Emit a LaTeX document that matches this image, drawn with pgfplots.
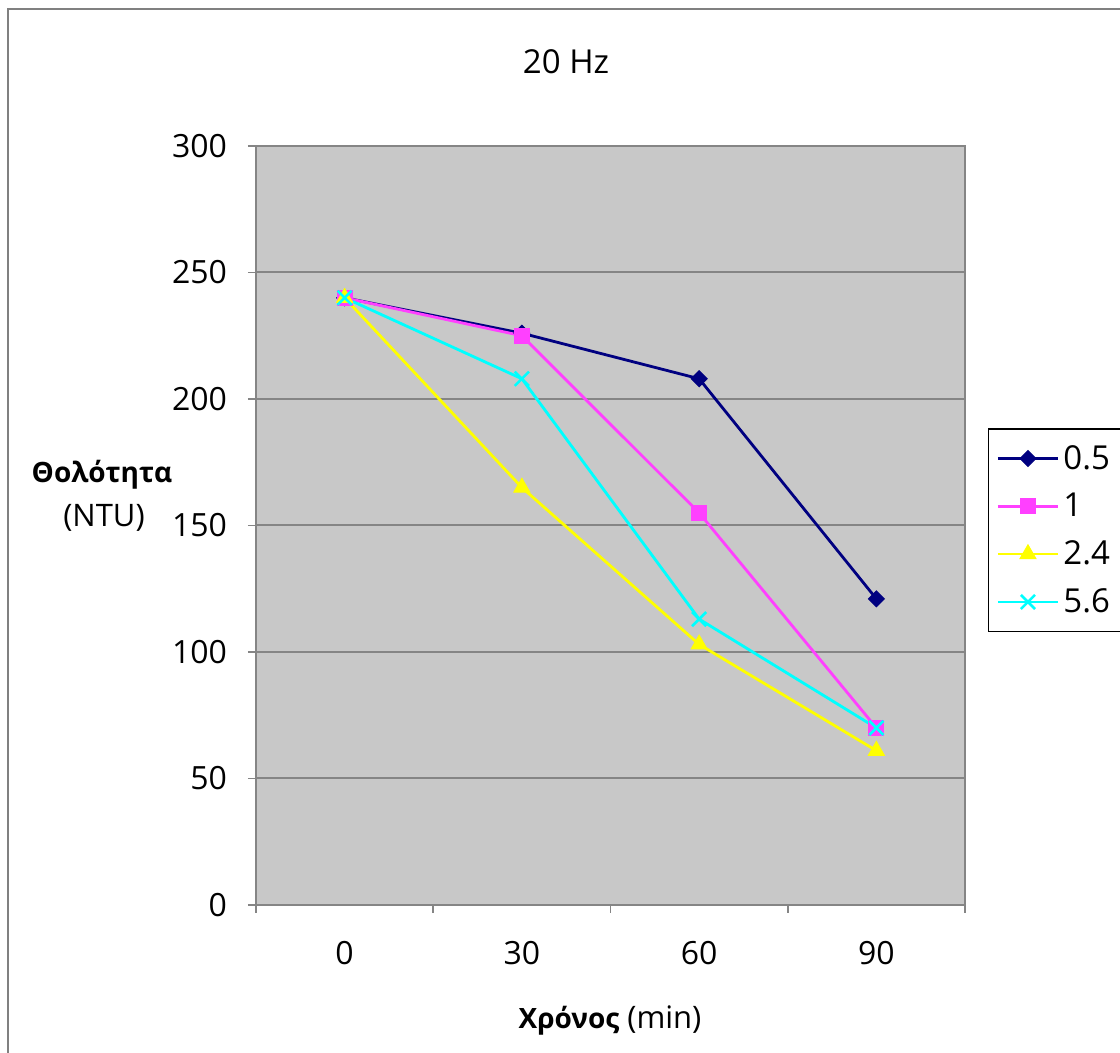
\documentclass[border=0pt]{standalone}
\usepackage{fontspec}
\setmainfont{Open Sans}
\usepackage{pgfplots}
\pgfplotsset{compat=1.18}
\definecolor{plotbg}{HTML}{C8C8C8}
\definecolor{sNavy}{HTML}{000080}
\definecolor{sMag}{HTML}{FF40FF}
\definecolor{sYel}{HTML}{FFFF00}
\definecolor{sCyan}{HTML}{00FFFF}
\definecolor{gridc}{HTML}{858585}
\begin{document}
\begin{tikzpicture}[x=1pt,y=1pt]
\path[use as bounding box] (0,0) rectangle (560,526.5);
\draw[gray,line width=0.8pt] (4,-5) -- (4,522) -- (570,522);
\begin{axis}[
  at={(128pt,74pt)}, anchor=south west,
  scale only axis, width=354.5pt, height=379.5pt,
  xmin=-15, xmax=105, ymin=0, ymax=300,
  xtick={-15,15,45,75,105}, xticklabels={},
  extra x ticks={0,30,60,90},
  extra x tick style={major tick length=0pt, xmajorgrids=false},
  extra x tick labels={0,30,60,90},
  ytick={0,50,100,150,200,250,300},
  xtick pos=left, ytick pos=left,
  ymajorgrids, grid style={gridc, line width=1pt},
  tick align=outside, major tick length=4pt,
  tick style={gridc, line width=0.8pt},
  axis line style={gridc, line width=1.2pt},
  axis background/.style={fill=plotbg},
  /pgf/number format/assume math mode=true,
  ticklabel style={font=\fontsize{16}{19}\selectfont},
  xticklabel style={yshift=-14.5pt},
  yticklabel style={xshift=-7pt},
  legend style={at={(1.0324,0.3597)}, anchor=south west, draw=black, line width=0.6pt,
    fill=white, font=\fontsize{16.5}{19}\selectfont, row sep=6.5pt, inner xsep=4pt, inner ysep=6pt,
    cells={anchor=west}},
  legend image code/.code={\draw[#1, mark repeat=2, mark phase=2] plot coordinates {(0pt,0pt) (15pt,0pt) (30pt,0pt)};},
  every axis plot/.append style={line width=1.4pt},
]
\addplot[sNavy, mark=square*, mark size=2.8pt, mark options={fill=sNavy, solid, rotate=45, line width=0.5pt}] coordinates {(0,240) (30,226) (60,208) (90,121)};
\addplot[sMag, mark=square*, mark size=3.75pt, mark options={fill=sMag, line width=0.5pt}] coordinates {(0,240) (30,225) (60,155) (90,70)};
\addplot[sYel, mark=triangle*, mark size=4.6pt, mark options={fill=sYel, line width=0.5pt}] coordinates {(0,240) (30,165) (60,103) (90,61)};
\addplot[sCyan, mark=x, mark size=5pt, mark options={line width=1.3pt}] coordinates {(0,240) (30,208) (60,113) (90,70)};
\legend{0.5,1,2.4,5.6}
\end{axis}
\node[font=\fontsize{16.5}{19}\selectfont] at (283,495.5) {20 Hz};
\node[font=\bfseries\fontsize{14}{17}\selectfont] at (51,289) {Θολότητα};
\node[font=\fontsize{15.5}{18}\selectfont] at (52,267.5) {(NTU)};
\node[font=\fontsize{15.5}{18}\selectfont] at (305,16.5) {{\bfseries\fontsize{14}{17}\selectfont Χρόνος} (min)};
\end{tikzpicture}
\end{document}
